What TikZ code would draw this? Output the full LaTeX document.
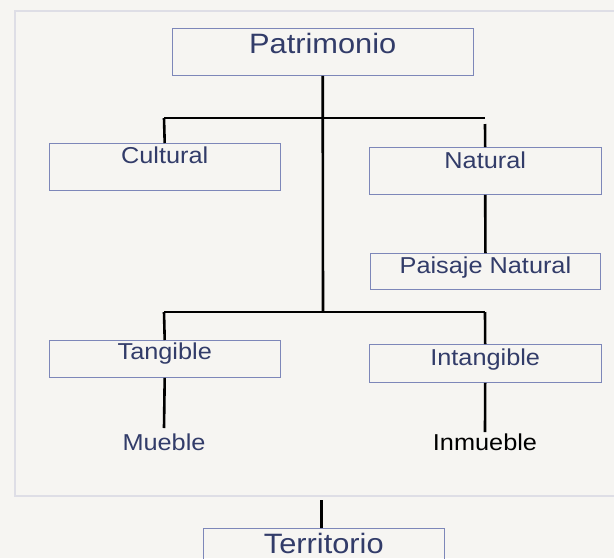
\documentclass[tikz,border=0pt]{standalone}
\usepackage{fontspec}
\setmainfont{Liberation Sans}[FakeStretch=1.1]
\definecolor{txt}{RGB}{50,60,105}
\definecolor{bx}{RGB}{125,135,185}
\definecolor{bg}{RGB}{246,245,242}
\definecolor{framec}{RGB}{222,222,230}
\begin{document}
\begin{tikzpicture}[x=1pt,y=-1pt,
  boxn/.style={draw=bx,line width=0.9pt,anchor=north west,inner xsep=0pt,inner ysep=0pt,text=txt,align=center},
  small/.style={font=\fontsize{23}{26}\selectfont},
  big/.style={font=\fontsize{28}{32}\selectfont},
  conn/.style={line width=2.6pt,black}]
\fill[bg] (0,0) rectangle (614,558);
\useasboundingbox (0,0) rectangle (614,558);
\draw[framec,line width=1.2pt] (15,11) rectangle (625,496);
% boxes
\node[boxn,big,minimum width=300.5pt,text height=25pt,text depth=22pt] (pat) at (172,28) {Patrimonio};
\node[boxn,small,minimum width=230.5pt,text height=20pt,text depth=27pt] (cul) at (49,143) {Cultural};
\node[boxn,small,minimum width=231.5pt,text height=21pt,text depth=26pt] (nat) at (369,147) {Natural};
\node[boxn,small,minimum width=230pt,text height=20pt,text depth=16pt] (pai) at (370,253) {Paisaje Natural};
\node[boxn,small,minimum width=230.5pt,text height=19pt,text depth=18pt] (tan) at (49,340) {Tangible};
\node[boxn,small,minimum width=231.5pt,text height=21pt,text depth=17pt] (int) at (369,344) {Intangible};
\node[boxn,big,minimum width=240.6pt,text height=25pt,text depth=22pt] (ter) at (203,528) {Territorio};
\node[small,text=txt,anchor=base,inner sep=0pt] (mue) at (164,450) {Mueble};
\node[small,text=black,anchor=base,inner sep=0pt] (inm) at (485,450) {Inmueble};
% junction coordinates
\coordinate (j2) at (323,312);
\coordinate (hl1) at (164,118);
\coordinate (hr1) at (485,118);
\coordinate (nt) at (485,124);
\coordinate (hl2) at (164,312);
\coordinate (hr2) at (485,312);
\coordinate (mend) at (164,428);
\coordinate (iend) at (485,432);
\coordinate (tt) at (321.5,500);
% connectors
\draw[conn] (pat.south) -- (j2);
\draw[conn] (hl1) -- (hr1);
\draw[conn] (hl1) -- (cul.north);
\draw[conn] (nt) -- (nat.north);
\draw[conn] (nat.south) -- (pai.north);
\draw[conn] (hl2) -- (hr2);
\draw[conn] (hl2) -- (tan.north);
\draw[conn] (hr2) -- (int.north);
\draw[conn] (tan.south) -- (mend);
\draw[conn] (int.south) -- (iend);
\draw[conn] (tt) -- (tt |- ter.north);
\end{tikzpicture}
\end{document}
